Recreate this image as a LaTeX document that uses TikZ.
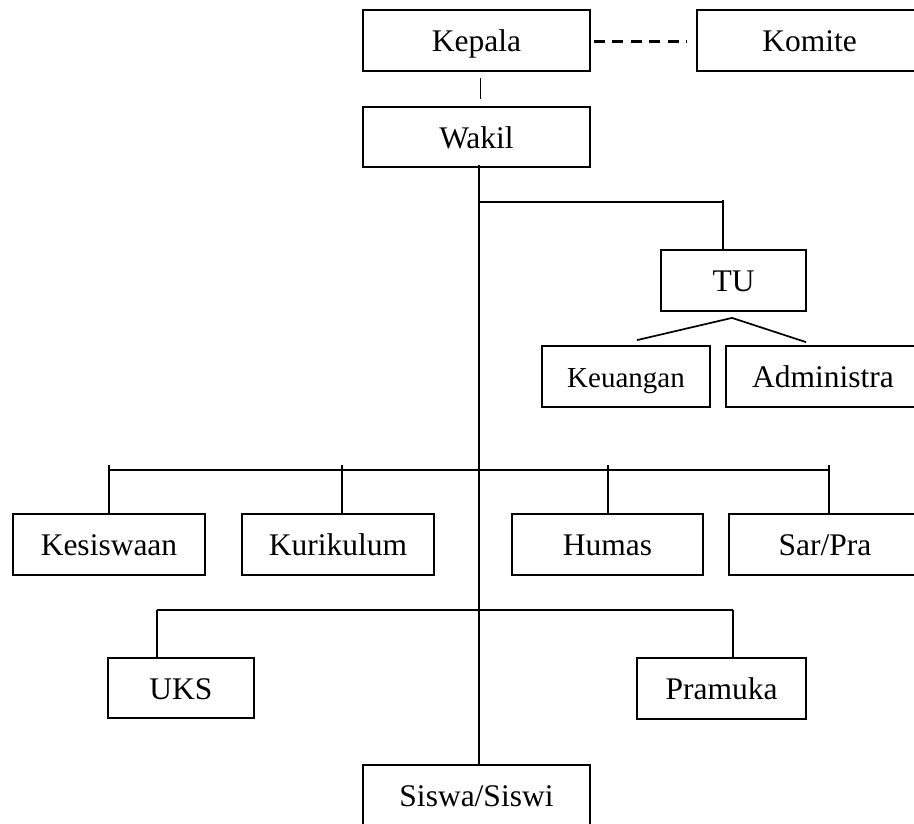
\documentclass[tikz,border=0pt]{standalone}
\usepackage{fontspec}
\setmainfont{Liberation Serif}
\usetikzlibrary{calc}
\begin{document}
\begin{tikzpicture}[x=1pt,y=1pt,
  box/.style={draw, line width=1.8pt, inner sep=0pt, minimum height=61pt,
    text height=22pt, text depth=0pt, font=\fontsize{31.5}{36}\selectfont},
  conn/.style={line width=1.7pt},
  dashconn/.style={line width=2.6pt, dash pattern=on 11pt off 7.5pt},
]
\useasboundingbox (0,0) rectangle (914,-823);
% boxes
\node[box, minimum width=227pt] (kepala) at (476.5,-40.5) {Kepala};
\node[box, minimum width=225pt] (komite) at (809.5,-40.5) {Komite};
\node[box, minimum width=227pt, minimum height=60pt] (wakil) at (476.5,-137) {Wakil};
\node[box, minimum width=145pt] (tu) at (733.5,-280.5) {TU};
\node[box, minimum width=168pt, font=\fontsize{29}{34}\selectfont] (keu) at (626,-376.5) {Keuangan};
\node[box, minimum width=194pt] (adm) at (823,-376.5) {Administra};
\node[box, minimum width=192pt] (kes) at (109,-544.5) {Kesiswaan};
\node[box, minimum width=192pt] (kur) at (338,-544.5) {Kurikulum};
\node[box, minimum width=191pt] (hum) at (607.5,-544.5) {Humas};
\node[box, minimum width=192pt] (sar) at (825,-544.5) {Sar/Pra};
\node[box, minimum width=146pt, minimum height=60pt] (uks) at (181,-688) {UKS};
\node[box, minimum width=169pt] (pra) at (721.5,-688.5) {Pramuka};
\node[box, minimum width=227pt] (sis) at (476.5,-795.5) {Siswa/Siswi};
% junction coordinates
\coordinate (tuJ) at (479,-202);
\coordinate (tuT) at (723,-202);
\coordinate (kesT) at (109,-465);
\coordinate (kurT) at (341.7,-465);
\coordinate (humT) at (607.7,-465);
\coordinate (sarT) at (829,-465);
\coordinate (bL) at (109,-470);
\coordinate (bR) at (829,-470);
\coordinate (uksT) at (157,-610);
\coordinate (praT) at (733,-610);
% Kepala - Wakil
\draw[conn] ([xshift=4pt,yshift=-6pt]kepala.south) -- ([xshift=4pt,yshift=7pt]wakil.north);
% Kepala - Komite
\draw[dashconn] ([xshift=3pt,yshift=-1pt]kepala.east) -- ([xshift=-9pt,yshift=-1pt]komite.west);
% trunk
\draw[conn] ([xshift=2.5pt,yshift=3pt]wakil.south) -- ([xshift=2.5pt]sis.north);
% TU branch
\draw[conn] (tuJ) -- (tuT);
\draw[conn] ($(tuT)+(0,2)$) -- (tuT |- tu.north);
\draw[conn] ([xshift=11pt,yshift=5pt]keu.north) -- ([xshift=-1.5pt,yshift=-6pt]tu.south) -- ([xshift=-17pt,yshift=3pt]adm.north);
% main branch
\draw[conn] (bL) -- (bR);
\draw[conn] (kesT) -- (kesT |- kes.north);
\draw[conn] (kurT) -- (kurT |- kur.north);
\draw[conn] (humT) -- (humT |- hum.north);
\draw[conn] (sarT) -- (sarT |- sar.north);
% lower branch
\draw[conn] (uksT) -- (praT);
\draw[conn] (uksT) -- (uksT |- uks.north);
\draw[conn] (praT) -- (praT |- pra.north);
\end{tikzpicture}
\end{document}
